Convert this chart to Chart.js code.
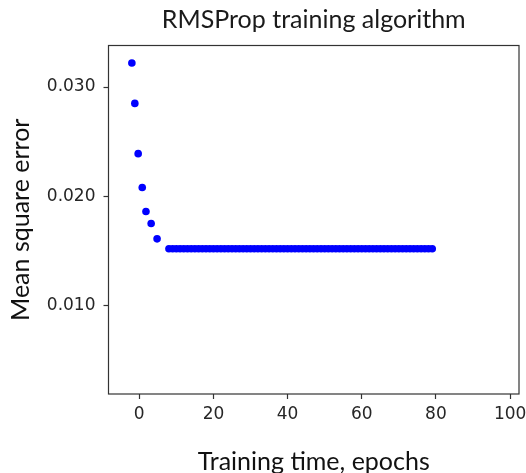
<!DOCTYPE html>
<html>
<head>
<meta charset="utf-8">
<script src="https://cdn.jsdelivr.net/npm/chart.js@4/dist/chart.umd.min.js"></script>
<style>
  html, body { margin: 0; padding: 0; background: #fff; }
</style>
</head>
<body>
<canvas id="rmsChart" width="526" height="473"></canvas>
<script>
const epochs = [
  -2, -1.2, -0.3, 0.8, 1.8, 3.2, 4.8,
  8, 9, 10, 11, 12, 13, 14, 15, 16, 17, 18, 19, 20, 21, 22, 23, 24, 25,
  26, 27, 28, 29, 30, 31, 32, 33, 34, 35, 36, 37, 38, 39, 40, 41, 42, 43,
  44, 45, 46, 47, 48, 49, 50, 51, 52, 53, 54, 55, 56, 57, 58, 59, 60, 61,
  62, 63, 64, 65, 66, 67, 68, 69, 70, 71, 72, 73, 74, 75, 76, 77, 78, 79, 80.5
];
const mse = [
  0.0322, 0.0285, 0.0239, 0.0208, 0.0186, 0.0175, 0.0161,
  0.0152, 0.0152, 0.0152, 0.0152, 0.0152, 0.0152, 0.0152, 0.0152, 0.0152,
  0.0152, 0.0152, 0.0152, 0.0152, 0.0152, 0.0152, 0.0152, 0.0152, 0.0152,
  0.0152, 0.0152, 0.0152, 0.0152, 0.0152, 0.0152, 0.0152, 0.0152, 0.0152,
  0.0152, 0.0152, 0.0152, 0.0152, 0.0152, 0.0152, 0.0152, 0.0152, 0.0152,
  0.0152, 0.0152, 0.0152, 0.0152, 0.0152, 0.0152, 0.0152, 0.0152, 0.0152,
  0.0152, 0.0152, 0.0152, 0.0152, 0.0152, 0.0152, 0.0152, 0.0152, 0.0152,
  0.0152, 0.0152, 0.0152, 0.0152, 0.0152, 0.0152, 0.0152, 0.0152, 0.0152,
  0.0152, 0.0152, 0.0152, 0.0152, 0.0152, 0.0152, 0.0152, 0.0152, 0.0152
];
const xTicks = [0, 20, 40, 60, 80, 100];
const yTicks = [0.010, 0.020, 0.030];

const points = epochs.map((e, i) => ({ x: e, y: mse[i] }));

// matplotlib-style box round the plot area
const frame = {
  id: 'frame',
  afterDraw(chart) {
    const { ctx, chartArea: a } = chart;
    ctx.save();
    ctx.strokeStyle = '#333';
    ctx.lineWidth = 1.2;
    ctx.strokeRect(a.left, a.top, a.right - a.left, a.bottom - a.top);
    ctx.restore();
  }
};

const tickFont = { family: 'DejaVu Sans', size: 17 };
const labelFont = { family: 'Lato', size: 25, lineHeight: 1 };

new Chart(document.getElementById('rmsChart'), {
  type: 'scatter',
  data: {
    datasets: [{
      data: points,
      backgroundColor: '#0000ff',
      borderWidth: 0,
      pointRadius: 3.8,
      pointHoverRadius: 3.8
    }]
  },
  options: {
    responsive: false,
    animation: false,
    layout: { padding: { right: 7 } },
    plugins: {
      legend: { display: false },
      tooltip: { enabled: false },
      title: {
        display: true,
        text: 'RMSProp training algorithm',
        fullSize: false,
        color: '#1a1a1a',
        font: { family: 'Lato', size: 25, weight: 'normal', lineHeight: 1.2 },
        padding: { top: 5, bottom: 10.5 }
      }
    },
    scales: {
      x: {
        type: 'linear',
        min: -8.3,
        max: 102.4,
        afterBuildTicks: s => { s.ticks = xTicks.map(v => ({ value: v })); },
        afterFit: s => { s.height = 79; s.paddingLeft = 0; s.paddingRight = 0; },
        grid: { drawOnChartArea: false, drawTicks: true, tickLength: 5, tickColor: '#333', tickWidth: 1.2 },
        border: { display: false },
        ticks: { font: tickFont, color: '#262626', padding: 5, maxRotation: 0 },
        title: { display: true, text: 'Training time, epochs', color: '#111', font: labelFont, padding: { top: 0, bottom: -1 } }
      },
      y: {
        type: 'linear',
        min: 0.0019,
        max: 0.0338,
        afterBuildTicks: s => { s.ticks = yTicks.map(v => ({ value: v })); },
        afterFit: s => { s.width = 108.5; s.paddingTop = 0; s.paddingBottom = 0; },
        grid: { drawOnChartArea: false, drawTicks: true, tickLength: 5, tickColor: '#333', tickWidth: 1.2 },
        border: { display: false },
        ticks: { font: tickFont, color: '#262626', padding: 8, callback: v => v.toFixed(3) },
        title: { display: true, text: 'Mean square error', color: '#111', font: labelFont, padding: { top: 8.5, bottom: 0 } }
      }
    }
  },
  plugins: [frame]
});
</script>
</body>
</html>
